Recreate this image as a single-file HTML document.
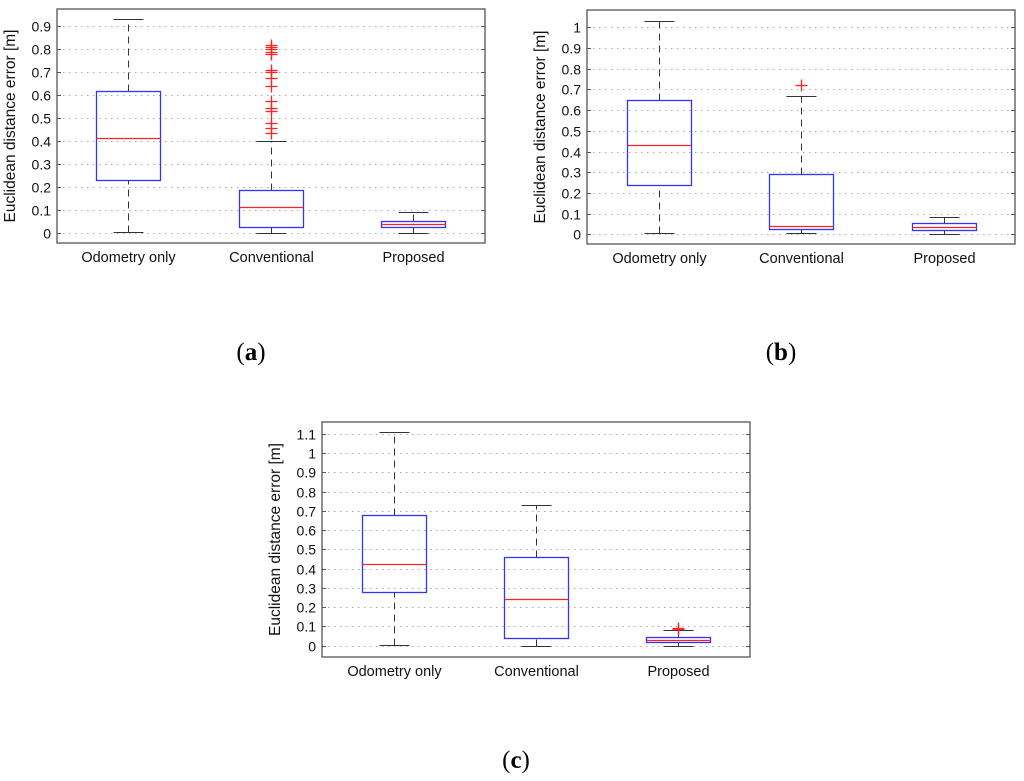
<!DOCTYPE html>
<html><head><meta charset="utf-8"><style>
body{margin:0;background:#fff;width:1024px;height:781px;overflow:hidden}
svg{position:absolute;left:0;top:0}
text{font-family:"Liberation Sans",sans-serif}
.cap{font-family:"Liberation Serif",serif;font-size:25px}
</style></head><body>
<svg id="fig" width="1024" height="781">
<text class="cap" x="251" y="360" text-anchor="middle">(<tspan font-weight="bold">a</tspan>)</text>
<text class="cap" x="781" y="360" text-anchor="middle">(<tspan font-weight="bold">b</tspan>)</text>
<text class="cap" x="516" y="768" text-anchor="middle">(<tspan font-weight="bold">c</tspan>)</text>
</svg>
<script>
const categories=["Odometry only","Conventional","Proposed"];
// each: [min, q1, median, q3, max]
const statsA=[[0.005,0.23,0.415,0.62,0.93],[0,0.025,0.11,0.185,0.40],[0,0.025,0.037,0.052,0.09]];
const outliersA=[[],[0.82,0.81,0.80,0.79,0.78,0.71,0.70,0.675,0.64,0.575,0.545,0.53,0.48,0.455,0.435],[]];
const ticksA=[0,0.1,0.2,0.3,0.4,0.5,0.6,0.7,0.8,0.9];
const statsB=[[0.005,0.24,0.43,0.65,1.03],[0.005,0.025,0.04,0.29,0.67],[0,0.022,0.037,0.053,0.085]];
const outliersB=[[],[0.72],[]];
const ticksB=[0,0.1,0.2,0.3,0.4,0.5,0.6,0.7,0.8,0.9,1];
const statsC=[[0.005,0.28,0.425,0.68,1.11],[0,0.04,0.245,0.46,0.73],[0,0.018,0.028,0.045,0.08]];
const outliersC=[[],[],[0.09,0.085]];
const ticksC=[0,0.1,0.2,0.3,0.4,0.5,0.6,0.7,0.8,0.9,1,1.1];

const NS="http://www.w3.org/2000/svg";
const svg=document.getElementById('fig');
function mk(tag,attrs,parent,txt){const e=document.createElementNS(NS,tag);for(const k in attrs)e.setAttribute(k,attrs[k]);if(txt!==undefined)e.textContent=txt;parent.appendChild(e);return e;}

function chart(id,L,R,T,B,y0,yTop,vTop,stats,outs,ticks,cx){
  const g=mk('g',{},svg);
  
  
  const y=v=>Math.round(y0-(y0-yTop)*v/vTop)+0.5;
  ticks.forEach(t=>{
    const l=mk('line',{x1:L,x2:R,y1:y(t),y2:y(t),stroke:'#aaa','stroke-width':1,'stroke-dasharray':'1.5,4.5'},g);
    
    
    mk('line',{x1:L,x2:L+4,y1:y(t),y2:y(t),stroke:'#555'},g);
    mk('line',{x1:R,x2:R-4,y1:y(t),y2:y(t),stroke:'#555'},g);
    const tx=mk('text',{x:L-6,y:y(t)+5,'text-anchor':'end','font-size':14,fill:'#111'},g,String(t));
    
    
  });
  const fr=mk('rect',{x:L,y:T,width:R-L,height:B-T,fill:'none',stroke:'#555','stroke-width':1.3},g);
  
  
  const yl=mk('text',{x:0,y:0,'text-anchor':'middle','font-size':15.5,fill:'#111',transform:`translate(${L-42},${(T+B)/2}) rotate(-90)`},g,'Euclidean distance error [m]');
  
  
  stats.forEach((s,i)=>{
    const x=cx[i]+0.5,hw=32,cw=15;
    const bg=mk('g',{},g);
    
    
    mk('line',{x1:x,x2:x,y1:y(s[3]),y2:y(s[4]),stroke:'#333','stroke-dasharray':'7,5'},bg);
    mk('line',{x1:x,x2:x,y1:y(s[0]),y2:y(s[1]),stroke:'#333','stroke-dasharray':'7,5'},bg);
    mk('line',{x1:x-cw,x2:x+cw,y1:y(s[4]),y2:y(s[4]),stroke:'#333'},bg);
    mk('line',{x1:x-cw,x2:x+cw,y1:y(s[0]),y2:y(s[0]),stroke:'#333'},bg);
    mk('rect',{x:x-hw,y:y(s[3]),width:2*hw,height:y(s[1])-y(s[3]),fill:'none',stroke:'#33f','stroke-width':1.3},bg);
    mk('line',{x1:x-hw,x2:x+hw,y1:y(s[2]),y2:y(s[2]),stroke:'#f22','stroke-width':1.2},bg);
    outs[i].forEach(o=>{
      const p=mk('path',{d:`M${x-6} ${y(o)}H${x+6}M${x} ${y(o)-6}V${y(o)+6}`,stroke:'#f22','stroke-width':1.3},bg);
      
      
    });
    const xl=mk('text',{x:x,y:B+19,'text-anchor':'middle','font-size':14.5,fill:'#111'},g,categories[i]);
    
    
  });
}
chart('a',57,485,9,243,232.7,26.3,0.9,statsA,outliersA,ticksA,[128,271,413]);
chart('b',587,1015,10,244,234.3,27.3,1.0,statsB,outliersB,ticksB,[659,801,944]);
chart('c',322,750,422,657,645.7,434,1.1,statsC,outliersC,ticksC,[394,536,678]);
</script>
</body></html>
